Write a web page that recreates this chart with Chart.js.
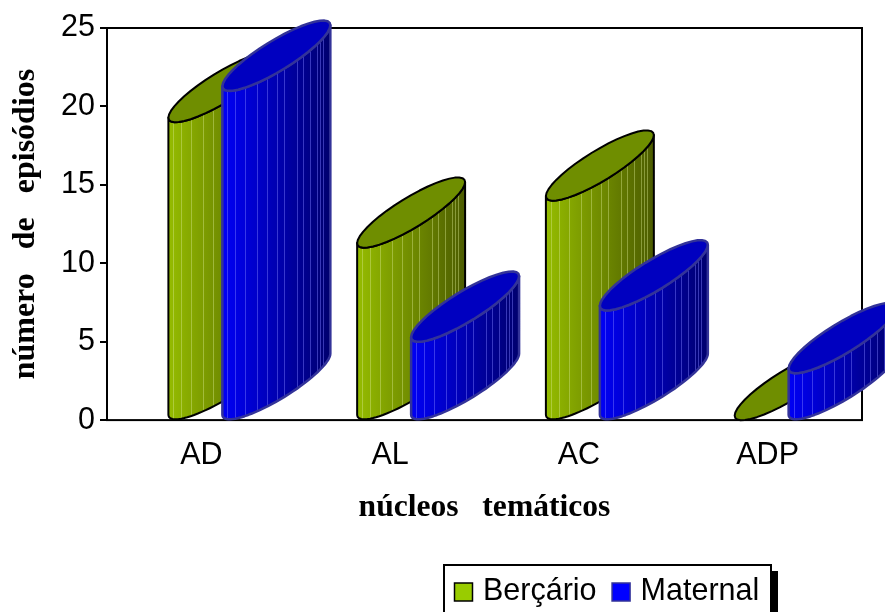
<!DOCTYPE html>
<html>
<head>
<meta charset="utf-8">
<title>núcleos temáticos</title>
<script src="https://cdn.jsdelivr.net/npm/chart.js@4"></script>
<style>
  html, body { margin: 0; padding: 0; background: #fff; overflow: hidden; }
  canvas { display: block; }
</style>
</head>
<body>
<canvas id="grafico" width="885" height="612"></canvas>
<script>
const categorias = ['AD', 'AL', 'AC', 'ADP'];
const bercario = [19, 11, 14, 0];
const maternal = [21, 5, 7, 3];

// estilo dos cilindros
const estilos = [
    { tampa: '#6f8e00', linha: '#000000', faixa: 'rgba(215,230,140,0.42)', cor1: '#95bc00', cor2: '#4c5c00', esp: 2 },
    { tampa: '#0000c0', linha: '#333399', faixa: 'rgba(125,125,255,0.45)', cor1: '#0000f5', cor2: '#00006e', esp: 2.5 }
];
const faixas = [5, 13, 23, 35, 45, 55, 62, 75, 81, 88, 95, 98, 101];

function elipse(ctx, cx, cy, w, ini, fim) {
    const n = 40;
    for (let i = 0; i <= n; i++) {
        const t = ini + (fim - ini) * i / n;
        ctx.lineTo(cx + w * Math.cos(t), cy - 30.5 * Math.cos(t) - 17.5 * Math.sin(t));
    }
}

function cilindro(ctx, bar, est) {
    const w = bar.width;
    const x0 = bar.x - w / 2 + 21;
    const cx = x0 + w;
    const cyTopo = bar.y - 35;
    const cyBase = bar.base - 35;

    ctx.save();
    ctx.lineJoin = 'round';

    if (bar.base - bar.y > 0) {
        ctx.beginPath();
        elipse(ctx, cx, cyBase, w, Math.PI, 2 * Math.PI);
        elipse(ctx, cx, cyTopo, w, 2 * Math.PI, Math.PI);
        ctx.closePath();
        const grad = ctx.createLinearGradient(x0, 0, x0 + 2 * w, 0);
        grad.addColorStop(0, est.cor1);
        grad.addColorStop(1, est.cor2);
        ctx.fillStyle = grad;
        ctx.fill();

        ctx.save();
        ctx.clip();
        ctx.strokeStyle = est.faixa;
        ctx.lineWidth = 1;
        faixas.forEach(function (f) {
            ctx.beginPath();
            ctx.moveTo(Math.round(x0 + f) + 0.5, cyTopo - 60);
            ctx.lineTo(Math.round(x0 + f) + 0.5, bar.base + 5);
            ctx.stroke();
        });
        ctx.restore();

        ctx.beginPath();
        elipse(ctx, cx, cyBase, w, Math.PI, 2 * Math.PI);
        elipse(ctx, cx, cyTopo, w, 2 * Math.PI, Math.PI);
        ctx.closePath();
        ctx.strokeStyle = est.linha;
        ctx.lineWidth = est.esp;
        ctx.stroke();
    }

    ctx.beginPath();
    elipse(ctx, cx, cyTopo, w, 0, 2 * Math.PI);
    ctx.closePath();
    ctx.fillStyle = est.tampa;
    ctx.fill();
    ctx.strokeStyle = est.linha;
    ctx.lineWidth = est.esp;
    ctx.stroke();
    ctx.restore();
}

const pluginCilindros = {
    id: 'cilindros',
    afterLayout(chart) {
        // a legenda fica dentro da caixa, embaixo
        const leg = chart.legend;
        leg.left = 439;
        leg.right = 800;
        leg.top = 556.5;
    },
    beforeDraw(chart) {
        const ctx = chart.ctx;
        ctx.save();
        ctx.fillStyle = '#000';
        ctx.fillRect(771, 571, 7, 41);
        ctx.fillStyle = '#fff';
        ctx.fillRect(444, 565, 327, 60);
        ctx.strokeStyle = '#000';
        ctx.lineWidth = 2;
        ctx.strokeRect(444, 565, 327, 60);
        ctx.restore();
    },
    beforeDatasetsDraw(chart) {
        const a = chart.chartArea;
        const ctx = chart.ctx;
        ctx.save();
        ctx.strokeStyle = '#000';
        ctx.lineWidth = 2;
        ctx.strokeRect(a.left, a.top, a.right - a.left, a.bottom - a.top);
        ctx.restore();
    },
    beforeDatasetDraw() {
        return false;
    },
    afterDatasetsDraw(chart) {
        chart.data.datasets.forEach(function (ds, i) {
            chart.getDatasetMeta(i).data.forEach(function (bar) {
                cilindro(chart.ctx, bar, estilos[i]);
            });
        });
    }
};

const ctx = document.getElementById('grafico').getContext('2d');

new Chart(ctx, {
    type: 'bar',
    data: {
        labels: categorias,
        datasets: [
            { label: 'Berçário', data: bercario, backgroundColor: '#99cc00', borderColor: '#000000', borderWidth: 1.5 },
            { label: 'Maternal', data: maternal, backgroundColor: '#0000ff', borderColor: '#333399', borderWidth: 1.5 }
        ]
    },
    plugins: [pluginCilindros],
    options: {
        responsive: false,
        animation: false,
        categoryPercentage: 0.572,
        barPercentage: 1,
        layout: { padding: { left: 0, right: 23, top: 28, bottom: 0 } },
        scales: {
            x: {
                afterFit(scale) { scale.height = 131.15; },
                grid: { display: false },
                border: { display: false },
                ticks: { color: '#000', padding: 9, maxRotation: 0, font: { family: '"Liberation Sans"', size: 30.5 } },
                title: {
                    display: true,
                    text: 'núcleos   temáticos',
                    color: '#000',
                    padding: { top: 0, bottom: 24.3 },
                    font: { family: '"Liberation Serif"', size: 31.6, weight: 'bold' }
                }
            },
            y: {
                min: 0,
                max: 25,
                afterFit(scale) { scale.width = 107; },
                grid: { drawOnChartArea: false, color: '#000', lineWidth: 2, tickLength: 7 },
                border: { display: false },
                ticks: { stepSize: 5, color: '#000', padding: 5, font: { family: '"Liberation Sans"', size: 30.5 } },
                title: {
                    display: true,
                    text: 'número   de   episódios',
                    color: '#000',
                    padding: { top: 7, bottom: 0 },
                    font: { family: '"Liberation Serif"', size: 32, weight: 'bold' }
                }
            }
        },
        plugins: {
            tooltip: { enabled: false },
            legend: {
                position: 'bottom',
                align: 'start',
                labels: {
                    color: '#000',
                    usePointStyle: true,
                    pointStyle: 'rect',
                    boxWidth: 8.5,
                    boxHeight: 18,
                    padding: 20.25,
                    font: { family: '"Liberation Sans"', size: 30.5 }
                }
            }
        }
    }
});
</script>
</body>
</html>
